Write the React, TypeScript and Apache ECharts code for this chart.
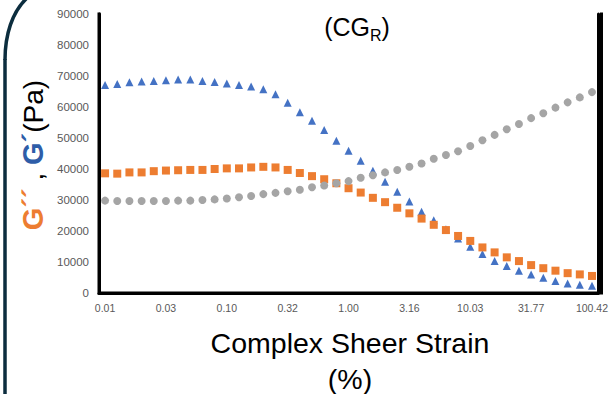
import React, { useEffect, useRef } from "react";
import * as echarts from "echarts";

const strainCategories = [
  "0.01", "0.0126", "0.0158", "0.02", "0.0251", "0.0316", "0.0398", "0.0501", "0.0631", "0.0794",
  "0.1", "0.126", "0.158", "0.2", "0.251", "0.316", "0.398", "0.501", "0.631", "0.794",
  "1.00", "1.26", "1.58", "2.00", "2.51", "3.16", "3.98", "5.01", "6.31", "7.94",
  "10.03", "12.6", "15.9", "20.0", "25.2", "31.77", "40.0", "50.3", "63.3", "79.7",
  "100.42",
];

const gPrime = [
  67100, 67400, 68000, 68200, 68400, 68600, 68900, 68900, 68400, 68100,
  67600, 67100, 66600, 65700, 64100, 61400, 58300, 55600, 52600, 49100,
  45900, 42700, 39400, 35900, 32700, 29500, 26200, 23500, 20600, 17600,
  14900, 12600, 10300, 8700, 7200, 6000, 4900, 3900, 3100, 2700,
  2300,
];

const gDoublePrime = [
  38600, 38500, 38900, 38900, 39300, 39500, 39600, 39700, 39700, 40000,
  40200, 40200, 40500, 40700, 40500, 39700, 38700, 37700, 36700, 35400,
  33800, 32400, 30700, 29300, 27500, 25700, 24000, 22000, 20300, 18400,
  16800, 14700, 13100, 11500, 10300, 9000, 8000, 7200, 6400, 6000,
  5500,
];

const thirdSeries = [
  29800, 29700, 29700, 29700, 29700, 29700, 29800, 29800, 30000, 30200,
  30500, 30900, 31300, 31900, 32300, 32800, 33300, 34100, 34700, 35400,
  36100, 37200, 38000, 38900, 39700, 40700, 41800, 43300, 44500, 45700,
  47400, 49300, 51000, 52800, 54500, 56400, 58000, 59800, 61500, 63100,
  64800,
];

const yTicks = { min: 0, max: 90000, interval: 10000 };

const FONT = "'Liberation Sans', Arial, sans-serif";

// plot box layout (pixels)
const G_LEFT = 99;
const G_RIGHT = 9.5;
const G_TOP = 14;
const G_BOTTOM = 101;
const W = 611;
const H = 394;

const mkAxisLine = () => ({ show: true, onZero: false, lineStyle: { color: "#000000", width: 3, opacity: 1 } });

export default function App() {
  const ref = useRef<HTMLDivElement>(null);

  useEffect(() => {
    if (!ref.current) return;
    const chart = echarts.init(ref.current, null, { renderer: "svg" });

    const xl = G_LEFT;
    const xr = W - G_RIGHT;
    const yt = G_TOP;
    const yb = H - G_BOTTOM;
    const frameStyle = { stroke: "#000", lineWidth: 3, fill: null, lineJoin: "miter", lineCap: "square" };

    chart.setOption({
      animation: false,
      backgroundColor: "#fff",
      grid: { left: G_LEFT, right: G_RIGHT, top: G_TOP, bottom: G_BOTTOM, containLabel: false },
      xAxis: {
        type: "category",
        data: strainCategories,
        boundaryGap: true,
        axisLine: mkAxisLine(),
        axisTick: { show: false },
        axisLabel: {
          interval: 4,
          margin: 9,
          color: "#595959",
          fontSize: 10.5,
          fontFamily: FONT,
          formatter: (v: string) => Number(v).toFixed(2),
        },
        splitLine: { show: false },
      },
      yAxis: [
        {
          type: "value",
          min: yTicks.min,
          max: yTicks.max,
          interval: yTicks.interval,
          axisLine: mkAxisLine(),
          axisTick: { show: false },
          axisLabel: {
            color: "#595959",
            fontSize: 11.5,
            fontFamily: FONT,
            margin: 10,
            formatter: (v: number) => String(v),
          },
          splitLine: { show: false },
        },
        {
          type: "value",
          position: "right",
          min: yTicks.min,
          max: yTicks.max,
          interval: yTicks.interval,
          axisLine: mkAxisLine(),
          axisTick: { show: false },
          axisLabel: { show: false },
          splitLine: { show: false },
        },
      ],
      series: [
        {
          name: "G′",
          type: "scatter",
          data: gPrime,
          symbol: "triangle",
          symbolSize: [8, 8],
          itemStyle: { color: "#4472C4", opacity: 1 },
        },
        {
          name: "G′′",
          type: "scatter",
          data: gDoublePrime,
          symbol: "rect",
          symbolSize: 8,
          itemStyle: { color: "#ED7D31", opacity: 1 },
        },
        {
          name: "series3",
          type: "scatter",
          data: thirdSeries,
          symbol: "circle",
          symbolSize: 8,
          itemStyle: { color: "#A5A5A5", opacity: 1 },
        },
      ],
      graphic: [
        {
          type: "polyline",
          z: 100,
          shape: { points: [[xl, yt], [xl, yb], [xr, yb], [xr, yt]] },
          style: frameStyle,
        },
        {
          type: "bezierCurve",
          shape: { x1: 27, y1: -2, cpx1: 12, cpy1: 12, cpx2: 5, cpy2: 35, x2: 5, y2: 60 },
          style: { stroke: "#0c2d3e", lineWidth: 3.5, fill: null },
        },
        {
          type: "line",
          shape: { x1: 5, y1: 59, x2: 5, y2: 400 },
          style: { stroke: "#0c2d3e", lineWidth: 3.5 },
        },
        {
          type: "text",
          x: 357,
          y: 27,
          style: {
            text: "{a|(CG}{s|R}{a|)}",
            align: "center",
            verticalAlign: "middle",
            rich: {
              a: { fontSize: 25, fontFamily: FONT, fill: "#000" },
              s: { fontSize: 16, fontFamily: FONT, fill: "#000", padding: [16, 0, 0, 0] },
            },
          },
        },
        {
          type: "text",
          x: 350,
          y: 343,
          style: {
            text: "Complex Sheer Strain",
            align: "center",
            verticalAlign: "middle",
            fontSize: 28.5,
            fontFamily: FONT,
            fill: "#000",
          },
        },
        {
          type: "text",
          x: 350,
          y: 379,
          style: {
            text: "(%)",
            align: "center",
            verticalAlign: "middle",
            fontSize: 28.5,
            fontFamily: FONT,
            fill: "#000",
          },
        },
        {
          type: "text",
          x: 33,
          y: 155,
          rotation: Math.PI / 2,
          style: {
            text: "{o|G´´}{k| , }{b|G´}{k|(Pa)}",
            align: "center",
            verticalAlign: "middle",
            rich: {
              o: { fontSize: 29, fontFamily: FONT, fontWeight: "bold", fill: "#ED7D31" },
              b: { fontSize: 29, fontFamily: FONT, fontWeight: "bold", fill: "#2E5DA8" },
              k: { fontSize: 28, fontFamily: FONT, fill: "#000" },
            },
          },
        },
      ],
    });

    return () => chart.dispose();
  }, []);

  return (
    <div
      ref={ref}
      style={{ position: "fixed", left: 0, top: 0, width: W, height: H, background: "#fff" }}
    />
  );
}
